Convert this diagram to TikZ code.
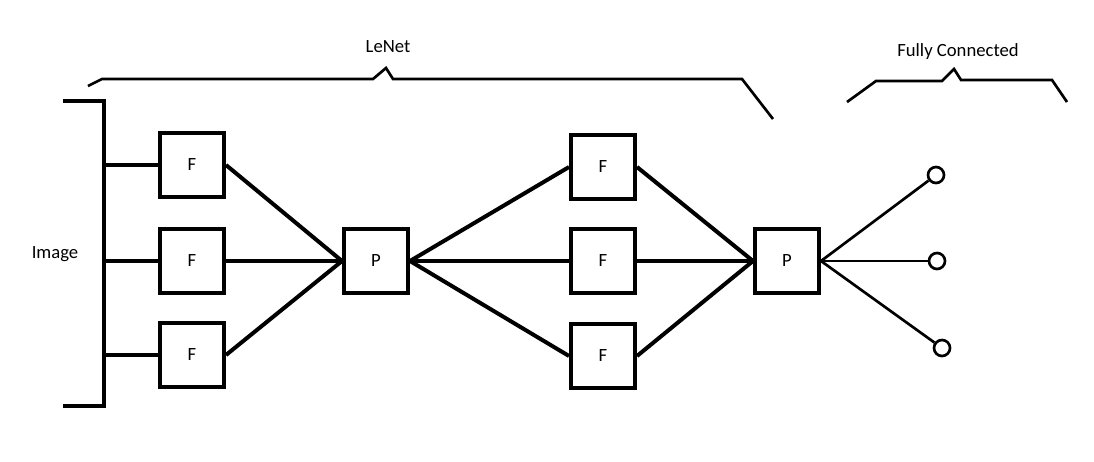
\documentclass[tikz,border=0pt]{standalone}
\usepackage{fontspec}
\setmainfont{Carlito}
\begin{document}
\begin{tikzpicture}[x=0.75pt,y=-0.75pt,
		box/.style={draw,line width=3pt,minimum width=48pt,minimum height=48pt,inner sep=0pt,font=\fontsize{14}{16}\selectfont},
		unit/.style={draw,circle,line width=2pt,minimum size=12pt,inner sep=0pt},
		lbl/.style={font=\fontsize{14}{16}\selectfont},
		thick line/.style={line width=3pt},
		thin line/.style={line width=2pt}]
			\useasboundingbox (0,0) rectangle (1094,461);
			\node[box] (f1) at (192,165) {F};
			\node[box] (f2) at (192,261) {F};
			\node[box] (f3) at (192,355) {F};
			\node[box] (p1) at (376,261) {P};
			\node[box] (g1) at (603,167) {F};
			\node[box] (g2) at (603,261) {F};
			\node[box] (g3) at (603,356) {F};
			\node[box] (p2) at (787,261) {P};
			\node[unit] (c1) at (936,175) {};
			\node[unit] (c2) at (937,261) {};
			\node[unit] (c3) at (942,348) {};
			\node[lbl] (img) at (55,254) {Image};
			\node[lbl] (lenet) at (388,47) {LeNet};
			\node[lbl] (fc) at (958,52) {Fully Connected};
			\coordinate (br) at (104,0);
			\draw[thick line,line join=miter] (63,101) -- (104,101) -- (104,406) -- (63,406);
			\draw[thick line] (f1.west) -- (f1.west -| br);
			\draw[thick line] (f2.west) -- (f2.west -| br);
			\draw[thick line] (f3.west) -- (f3.west -| br);
			\draw[thick line] (f1.east) -- (p1.west);
			\draw[thick line] (f2.east) -- (p1.west);
			\draw[thick line] (f3.east) -- (p1.west);
			\draw[thick line] (p1.east) -- (g1.west);
			\draw[thick line] (p1.east) -- (g2.west);
			\draw[thick line] (p1.east) -- (g3.west);
			\draw[thick line] (g1.east) -- (p2.west);
			\draw[thick line] (g2.east) -- (p2.west);
			\draw[thick line] (g3.east) -- (p2.west);
			\draw[thin line] (p2.east) -- (c1);
			\draw[thin line] (p2.east) -- (c2);
			\draw[thin line] (p2.east) -- (c3);
			\draw[thin line] (88,86) -- (102,79) -- (373,79) -- (386,68) -- (393,79) -- (742,79) -- (773,119);
			\draw[thin line] (847,102) -- (876,81) -- (942,81) -- (954,69) -- (961,80) -- (1052,80) -- (1067,102);
		\end{tikzpicture}
\end{document}
